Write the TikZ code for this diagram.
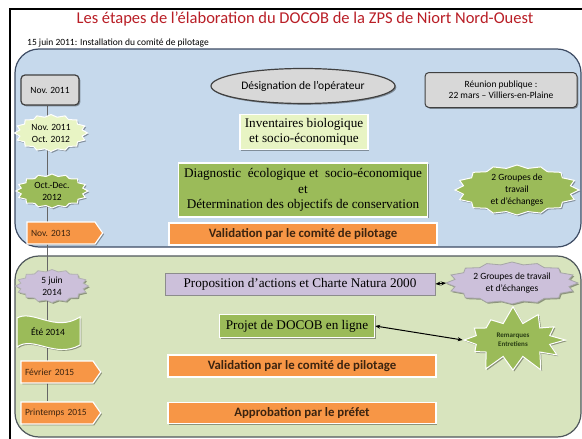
\documentclass[tikz,border=0pt]{standalone}
\usepackage{fontspec}
\setmainfont{Liberation Serif}
\newfontfamily\calfont{Carlito}
\usetikzlibrary{shapes.geometric,shapes.symbols,shadows,arrows.meta,calc}
\pgfdeclarelayer{back}
\pgfdeclarelayer{mid}
\pgfsetlayers{back,mid,main}
\definecolor{bluef}{RGB}{198,217,236}
\definecolor{blued}{RGB}{62,76,100}
\definecolor{greenf}{RGB}{216,228,190}
\definecolor{greend}{RGB}{80,88,92}
\definecolor{orangec}{RGB}{247,150,70}
\definecolor{dgreen}{RGB}{155,187,89}
\definecolor{lgreen}{RGB}{232,244,196}
\definecolor{lav}{RGB}{204,192,218}
\definecolor{grayf}{RGB}{216,216,216}
\definecolor{titred}{RGB}{185,30,38}
\definecolor{brownt}{RGB}{60,36,16}
\definecolor{burstt}{RGB}{40,60,20}
% seal outline: style, cx, cy, rx, ry, points, inner fraction
\newcommand\sealpath[7]{%
  \pgfmathtruncatemacro\sealN{2*#6-1}%
  \draw[#1] plot[variable=\t,samples at={0,...,\sealN}]
    ({#2+#4*(1-#7*mod(\t,2))*cos(\t*180/#6)},{#3+#5*(1-#7*mod(\t,2))*sin(\t*180/#6)}) -- cycle;}
\tikzset{
  shad/.style={drop shadow={shadow xshift=1.3pt,shadow yshift=-1.3pt,opacity=0.35,fill=black}},
  datebox/.style={draw=black!75,line width=1.2pt,fill=grayf,rounded corners=4pt,
    minimum width=58pt,minimum height=30pt,font=\calfont\fontsize{9.5}{11}\selectfont,shad},
  sealtext/.style={inner sep=0pt,align=center,font=\calfont\fontsize{9.5}{12}\selectfont},
  sealline/.style={draw=white,line width=1pt,shad},
  tag/.style={signal,signal to=east,signal pointer angle=110,fill=orangec,draw=white,
    line width=1.2pt,minimum height=22pt,text width=60pt,align=left,inner xsep=4pt,
    font=\calfont\fontsize{9.5}{11}\selectfont\frenchspacing\color{brownt},shad},
  serifbox/.style={draw=white,line width=1.5pt,align=center,inner sep=2pt,shad,
    font=\fontsize{13.2}{15.5}\selectfont},
  orangebox/.style={fill=orangec,draw=white,line width=1.5pt,minimum width=268pt,
    minimum height=22pt,shad,font=\calfont\bfseries\fontsize{12.8}{14}\selectfont\color{brownt}},
  dbl/.style={{Stealth[length=5pt,width=4pt]}-{Stealth[length=5pt,width=4pt]},line width=1pt,black}
}
\begin{document}
\begin{tikzpicture}[x=1pt,y=-1pt]
\useasboundingbox (0,0) rectangle (582,439);
\clip (0,0) rectangle (582,439);
% panels
\begin{pgfonlayer}{back}
\fill[white] (0,0) rectangle (582,439);
\draw[fill=bluef,draw=blued,line width=1.2pt,rounded corners=24pt] (15,49) rectangle (581,247);
\draw[fill=greenf,draw=greend,line width=1.2pt,rounded corners=24pt] (15,256) rectangle (581,437);
\end{pgfonlayer}
% frame
\draw[black,line width=1.8pt] (10,460) -- (10,9) -- (600,9);
% title
\node[font=\calfont\fontsize{16.5}{18}\selectfont,text=titred] (title) at (305,19)
  {Les étapes de l’élaboration du DOCOB de la ZPS de Niort Nord-Ouest};
\node[anchor=west,font=\calfont\fontsize{9.5}{11}\selectfont,inner sep=0pt] (sub) at (27,43)
  {15 juin 2011: Installation du comité de pilotage};
% left timeline nodes
\node[datebox] (nov11) at (50,90) {Nov. 2011};
\sealpath{sealline,fill=lgreen}{51}{133}{36.5}{18.5}{16}{0.13}
\node[sealtext] (s1) at (51,133) {Nov. 2011\\Oct. 2012};
\sealpath{sealline,fill=dgreen}{52}{191}{36}{17}{16}{0.13}
\node[sealtext] (s2) at (52,191) {Oct.-Dec.\\2012};
\node[tag] (nov13) at (61,233) {Nov. 2013};
\sealpath{draw=black!30,line width=0.8pt,shad,fill=lav}{52}{286}{36.5}{16.5}{16}{0.13}
\node[sealtext] (juin) at (52,286) {5 juin\\2014};
% wave for Ete 2014
\draw[fill=dgreen,draw=white,line width=1pt,shad] (17,318) .. controls (33,309) and (55,333) .. (80,317)
   -- (80,345) .. controls (55,359) and (33,335) .. (17,347) -- cycle;
\node[font=\calfont\fontsize{9.5}{11}\selectfont,inner sep=1pt] (ete) at (48,332) {Été 2014};
\node[tag,text width=64pt] (fev) at (57,372) {Février 2015};
\node[tag,text width=64pt] (print) at (57,413) {Printemps 2015};
% timeline line
\begin{pgfonlayer}{mid}
\draw[black!60,line width=0.8pt] ([xshift=-3pt]nov11.south) -- ([xshift=-3pt]nov11.south |- print.north);
\end{pgfonlayer}
% top panel boxes
\node[ellipse,draw=black!75,line width=1.2pt,fill=grayf,minimum width=168pt,
  minimum height=35pt,shad,font=\calfont\fontsize{11.5}{13}\selectfont] (ell) at (303,86) {Désignation de l’opérateur};
\node[datebox,minimum width=152pt,minimum height=35pt,align=center,line width=1pt] (reu) at (501,90)
  {Réunion publique :\\22 mars – Villiers-en-Plaine};
\node[serifbox,fill=lgreen,minimum width=128pt,minimum height=35pt] (inv) at (304,132)
  {Inventaires biologique\\et socio-économique};
\node[serifbox,fill=dgreen,minimum width=249pt,minimum height=54pt] (diag) at (303,190)
  {Diagnostic\ \ écologique et\ \ socio-économique\\et\\Détermination des objectifs de conservation};
\node[orangebox] (val1) at (303,234) {Validation par le comité de pilotage};
\sealpath{sealline,fill=dgreen}{517}{190}{62}{25}{16}{0.12}
\node[sealtext] (g1) at (517,190) {2 Groupes de\\travail\\et d’échanges};
% bottom panel boxes
\node[serifbox,fill=lav,draw=black!45,line width=1pt,minimum width=270pt,minimum height=22pt] (prop) at (300,284)
  {Proposition d’actions et Charte Natura 2000};
\sealpath{draw=black!35,line width=0.8pt,shad,fill=lav}{512}{283}{66}{21}{16}{0.12}
\node[sealtext] (g2) at (512,283) {2 Groupes de travail\\et d’échanges};
\coordinate (g2w) at (446,283);
\node[serifbox,fill=dgreen,minimum width=155pt,minimum height=23pt] (proj) at (297,326)
  {Projet de DOCOB en ligne};
\node[starburst,random starburst=7,starburst points=12,starburst point height=18pt,fill=dgreen,
  draw=white,line width=1pt,inner sep=0pt,minimum width=112pt,minimum height=70pt,align=center,shad,
  font=\calfont\bfseries\fontsize{7}{8.5}\selectfont\color{burstt}] (burst) at (513,340) {Remarques\\Entretiens};
\node[orangebox] (val2) at (302,366) {Validation par le comité de pilotage};
\node[orangebox,minimum height=21pt] (appro) at (302,413) {Approbation par le préfet};
% arrows
\draw[dbl] (prop.east) -- (g2w);
\draw[dbl] (proj.east) -- (burst.west);
\end{tikzpicture}
\end{document}
